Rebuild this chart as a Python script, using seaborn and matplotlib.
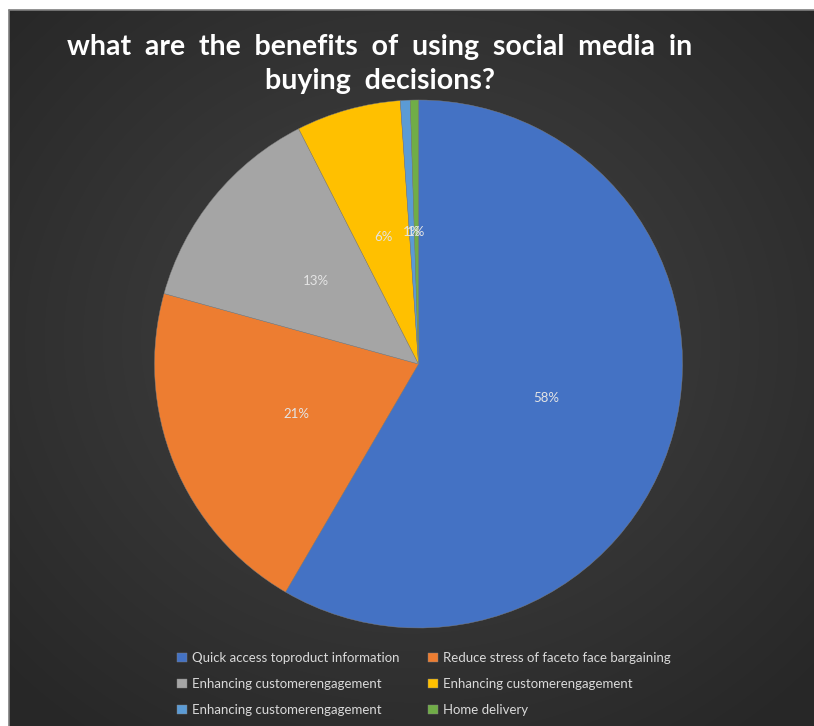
import numpy as np
import matplotlib
matplotlib.use("Agg")
import matplotlib.pyplot as plt
import seaborn as sns

categories = [
    "Quick access toproduct information",
    "Reduce stress of faceto face bargaining",
    "Enhancing customerengagement",
    "Enhancing customerengagement",
    "Enhancing customerengagement",
    "Home delivery",
]
values = [58.4, 20.9, 13.2, 6.4, 0.6, 0.5]
colors = ["#4472C4", "#ED7D31", "#A5A5A5", "#FFC000", "#5B9BD5", "#70AD47"]
title = "what  are  the  benefits  of  using  social  media  in\nbuying  decisions?"

sns.set_theme(style="dark")
plt.rcParams["font.family"] = ["Lato", "DejaVu Sans"]

W, H = 814, 726
fig = plt.figure(figsize=(W / 100, H / 100), dpi=100)
fig.patch.set_facecolor("white")

# background panel with radial gradient
bg = fig.add_axes([9 / W, 0, (W - 9) / W, (H - 10) / H])
bg.set_axis_off()
yy, xx = np.mgrid[0:716, 0:805]
cx, cy = 402, 330
d = np.sqrt(((xx - cx) / 560.0) ** 2 + ((yy - cy) / 500.0) ** 2)
d = np.clip(d, 0, 1)
c0, c1 = np.array([0x44, 0x44, 0x44]) / 255, np.array([0x27, 0x27, 0x27]) / 255
img = c0[None, None, :] * (1 - d[..., None]) + c1[None, None, :] * d[..., None]
bg.imshow(img, aspect="auto", extent=[0, 1, 0, 1], origin="upper")
bg.set_xlim(0, 1)
bg.set_ylim(0, 1)
# thin border on left/top
fig.add_artist(plt.Line2D([8.5 / W, 8.5 / W], [0, (H - 9.5) / H], color="#7f7f7f", lw=1.2, transform=fig.transFigure))
fig.add_artist(plt.Line2D([8.5 / W, 1], [(H - 9.5) / H, (H - 9.5) / H], color="#7f7f7f", lw=1.2, transform=fig.transFigure))

# pie
r = 264
cxp, cyp = 418.5, H - 364
ax = fig.add_axes([(cxp - r) / W, (cyp - r) / H, 2 * r / W, 2 * r / H])
ax.set_facecolor("none")


def fmt(p):
    return "%d%%" % int(p + 0.5 + 1e-6)


wedges, texts, autotexts = ax.pie(
    values,
    colors=colors,
    startangle=90,
    counterclock=False,
    autopct=fmt,
    pctdistance=0.5,
    textprops=dict(color="#e4e4e4", fontsize=9.5),
    wedgeprops=dict(linewidth=0.3, edgecolor="#808080"),
)
ax.set_xlim(-1, 1)
ax.set_ylim(-1, 1)
ax.set_aspect("equal")
ax.set_axis_off()

fig.text(380 / W, (H - 64) / H, title, ha="center", va="center", color="white",
         fontsize=20.5, fontweight="bold", linespacing=1.35)

order = [0, 2, 4, 1, 3, 5]
leg = fig.legend(
    [wedges[i] for i in order], [categories[i] for i in order],
    ncol=2, loc="center", bbox_to_anchor=(424 / W, 42 / H),
    frameon=False, fontsize=9.5, labelcolor="#d9d9d9", handlelength=0.7,
    handleheight=0.7, handletextpad=0.4, labelspacing=1.05, columnspacing=2.2,
)

fig.savefig("out.png", dpi=100, facecolor=fig.get_facecolor())
